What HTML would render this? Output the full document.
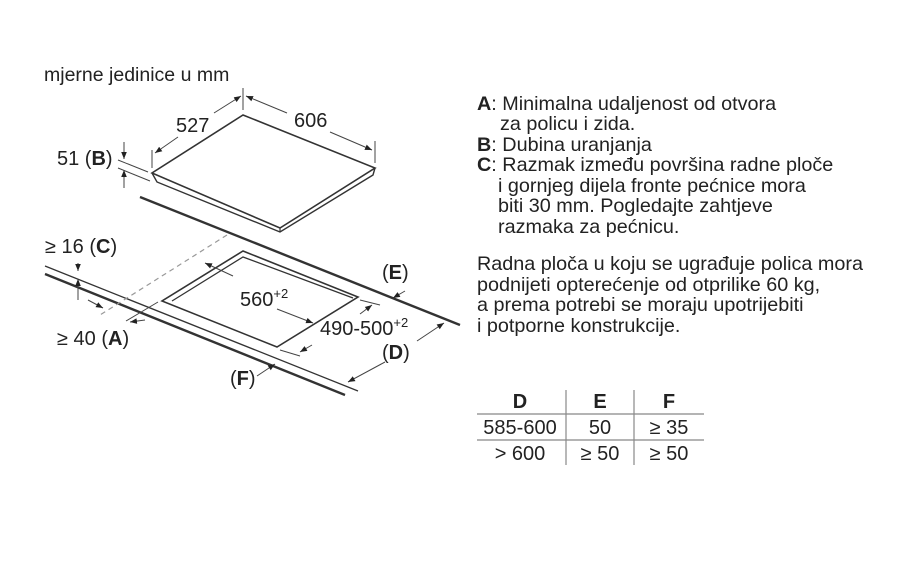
<!DOCTYPE html>
<html><head><meta charset="utf-8"><style>
html,body{margin:0;padding:0;background:#fff;}
svg{display:block;}
text{font-family:"Liberation Sans",Arial,sans-serif;fill:#222;}
</style></head><body>
<svg width="920" height="581" viewBox="0 0 920 581" xmlns="http://www.w3.org/2000/svg">
<defs>
<marker id="ar" viewBox="0 0 10 10" refX="10" refY="5" markerWidth="7" markerHeight="7" orient="auto-start-reverse"><path d="M0,1 L10,5 L0,9 z" fill="#222"/></marker>
</defs>
<text x="44" y="81" font-size="19.5">mjerne jedinice u mm</text>

<g stroke="#333" fill="none">
<polygon points="243,115 375,168 280,228 152,173" fill="#fff" stroke-width="1.6"/>
<polyline points="152,173 157,182 280,232 373,175 375,168" stroke-width="1.4"/>
<line x1="280" y1="228" x2="280" y2="232" stroke-width="1.2"/>
<line x1="140" y1="197" x2="460" y2="325" stroke-width="2.4"/>
<line x1="45" y1="266" x2="358" y2="391" stroke-width="1.3"/>
<line x1="45" y1="274" x2="345" y2="395" stroke-width="2.4"/>
<line x1="227" y1="235" x2="100" y2="315" stroke="#999" stroke-width="1.2" stroke-dasharray="5,4"/>
<polygon points="243,251 358,297 277,347 162,301" stroke-width="1.6"/>
<polyline points="172,301 243,257 353,298" stroke-width="1.3"/>

<g stroke="#444" stroke-width="1">
<line x1="152" y1="168" x2="152" y2="150"/>
<line x1="243" y1="110" x2="243" y2="88"/>
<line x1="155" y1="153" x2="178" y2="137" marker-start="url(#ar)"/>
<line x1="214" y1="113" x2="241" y2="96" marker-end="url(#ar)"/>
<line x1="375" y1="163" x2="375" y2="141"/>
<line x1="246" y1="96" x2="287" y2="113" marker-start="url(#ar)"/>
<line x1="330" y1="132" x2="372" y2="150" marker-end="url(#ar)"/>
<line x1="118" y1="160" x2="148" y2="172"/>
<line x1="118" y1="168" x2="150" y2="181"/>
<line x1="124" y1="142" x2="124" y2="159" marker-end="url(#ar)"/>
<line x1="124" y1="188" x2="124" y2="170" marker-end="url(#ar)"/>
<line x1="78" y1="263" x2="78" y2="271" marker-end="url(#ar)"/>
<line x1="78" y1="300" x2="78" y2="279" marker-end="url(#ar)"/>
<line x1="88" y1="300" x2="103" y2="308" marker-end="url(#ar)"/>
<line x1="145" y1="320" x2="130" y2="322" marker-end="url(#ar)"/>
<line x1="126" y1="321" x2="158" y2="302"/>
<line x1="233" y1="276" x2="205" y2="263" marker-end="url(#ar)"/>
<line x1="277" y1="309" x2="313" y2="323" marker-end="url(#ar)"/>
<line x1="360" y1="300" x2="380" y2="305"/>
<line x1="280" y1="350" x2="300" y2="356"/>
<line x1="360" y1="314" x2="372" y2="305" marker-end="url(#ar)"/>
<line x1="312" y1="345" x2="300" y2="352" marker-end="url(#ar)"/>
<line x1="405" y1="291" x2="393" y2="298" marker-end="url(#ar)"/>
<line x1="417" y1="341" x2="444" y2="323" marker-end="url(#ar)"/>
<line x1="385" y1="362" x2="348" y2="382" marker-end="url(#ar)"/>
<line x1="257" y1="376" x2="275" y2="364" marker-end="url(#ar)"/>
</g>
</g>

<g font-size="20">
<text x="176" y="132">527</text>
<text x="294" y="127">606</text>
<text x="57" y="165">51 (<tspan font-weight="bold">B</tspan>)</text>
<text x="45" y="253">≥ 16 (<tspan font-weight="bold">C</tspan>)</text>
<text x="57" y="345">≥ 40 (<tspan font-weight="bold">A</tspan>)</text>
<text x="240" y="306">560<tspan font-size="13" dy="-8">+2</tspan></text>
<text x="320" y="335">490-500<tspan font-size="13" dy="-8">+2</tspan></text>
<text x="382" y="279">(<tspan font-weight="bold">E</tspan>)</text>
<text x="382" y="359">(<tspan font-weight="bold">D</tspan>)</text>
<text x="230" y="385">(<tspan font-weight="bold">F</tspan>)</text>
</g>

<g font-size="19.8">
<text x="477" y="110"><tspan font-weight="bold">A</tspan>: Minimalna udaljenost od otvora</text>
<text x="500" y="130">za policu i zida.</text>
<text x="477" y="151"><tspan font-weight="bold">B</tspan>: Dubina uranjanja</text>
<text x="477" y="171"><tspan font-weight="bold">C</tspan>: Razmak između površina radne ploče</text>
<text x="498" y="192">i gornjeg dijela fronte pećnice mora</text>
<text x="498" y="212">biti 30 mm. Pogledajte zahtjeve</text>
<text x="498" y="233">razmaka za pećnicu.</text>
<text x="477" y="270">Radna ploča u koju se ugrađuje polica mora</text>
<text x="477" y="291">podnijeti opterećenje od otprilike 60 kg,</text>
<text x="477" y="311">a prema potrebi se moraju upotrijebiti</text>
<text x="477" y="332">i potporne konstrukcije.</text>
</g>

<g stroke="#888" stroke-width="1.2">
<line x1="477" y1="414" x2="704" y2="414"/>
<line x1="477" y1="440" x2="704" y2="440"/>
<line x1="566" y1="390" x2="566" y2="465"/>
<line x1="634" y1="390" x2="634" y2="465"/>
</g>
<g font-size="20" text-anchor="middle">
<text x="520" y="408" font-weight="bold">D</text>
<text x="600" y="408" font-weight="bold">E</text>
<text x="669" y="408" font-weight="bold">F</text>
<text x="520" y="434">585-600</text>
<text x="600" y="434">50</text>
<text x="669" y="434">≥ 35</text>
<text x="520" y="460">&gt; 600</text>
<text x="600" y="460">≥ 50</text>
<text x="669" y="460">≥ 50</text>
</g>
</svg>
</body></html>
